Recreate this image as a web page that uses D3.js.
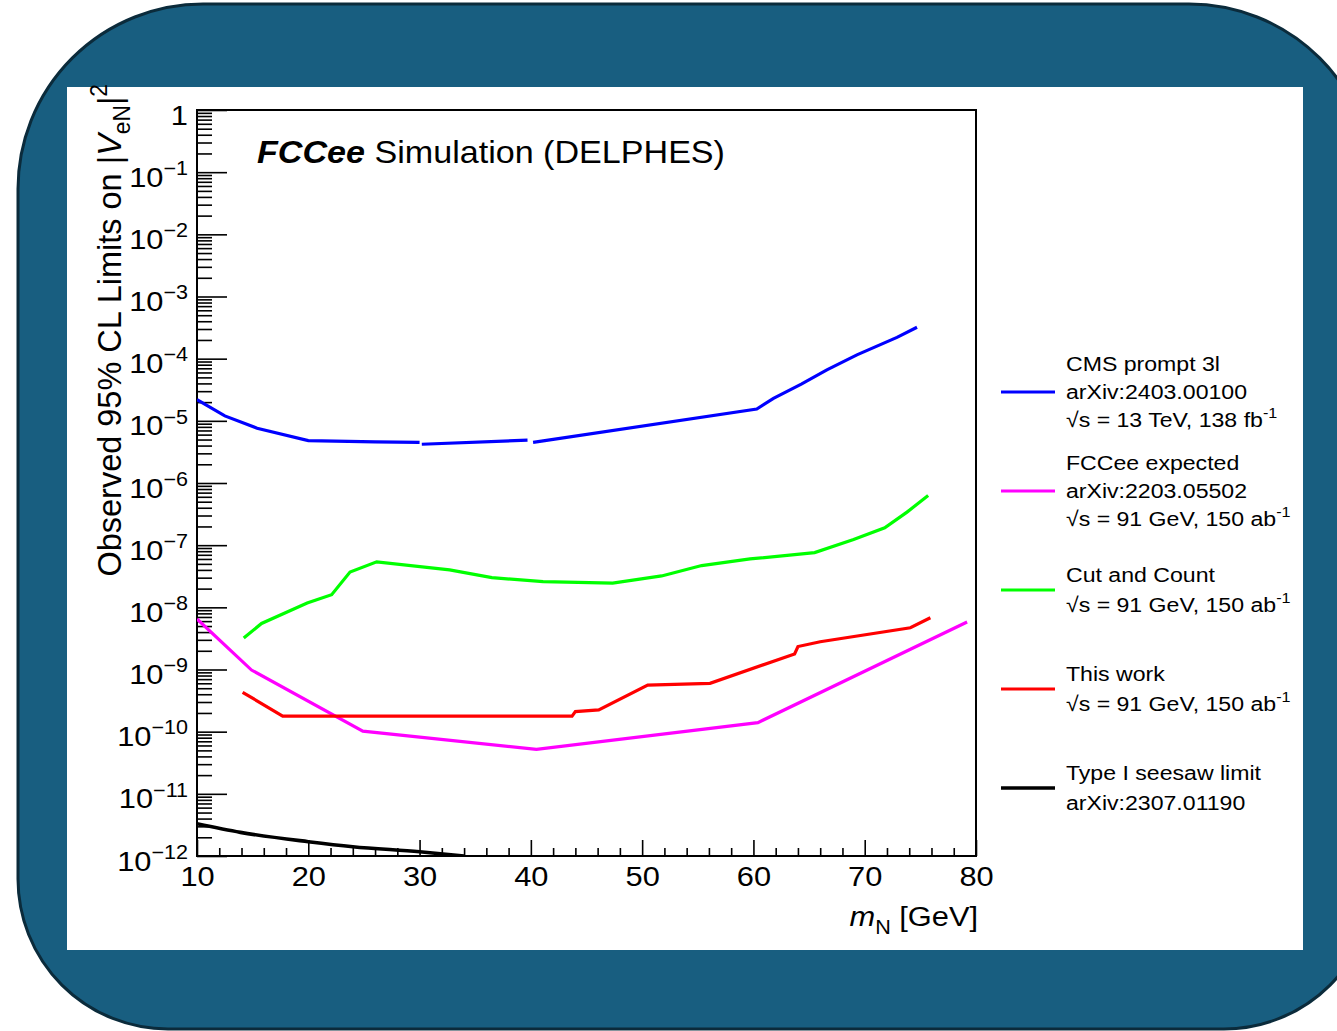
<!DOCTYPE html>
<html>
<head>
<meta charset="utf-8">
<script src="https://cdn.jsdelivr.net/npm/d3@7"></script>
<style>
  html, body { margin: 0; padding: 0; background: #fff; }
  svg { display: block; font-family: "Liberation Sans", Arial, Helvetica, sans-serif; }
</style>
</head>
<body>
<div id="chart"></div>
<script>
// ---- data ----
// CMS prompt 3l (null = gap in the line)
var cmsMass  = [10.0, 12.5, 15.4, 20.0, 26.0, 30.0, null, 30.2, 39.7, null, 40.2, 60.3, 61.8, 64.3, 66.6, 69.3, 72.9, 74.7];
var cmsLimit = [2.2e-5, 1.2e-5, 7.6e-6, 4.8e-6, 4.6e-6, 4.5e-6, null, 4.2e-6, 4.9e-6, null, 4.5e-6, 1.55e-5, 2.3e-5, 3.9e-5, 6.6e-5, 1.15e-4, 2.2e-4, 3.2e-4];
// FCCee expected
var fccMass  = [10.0, 14.9, 24.9, 40.5, 60.4, 79.2];
var fccLimit = [6.5e-9, 9.8e-10, 1.02e-10, 5.2e-11, 1.4e-10, 5.8e-9];
// Cut and Count
var ccMass  = [14.2, 15.8, 19.9, 22.1, 23.75, 26.15, 32.7, 36.5, 41.1, 47.35, 51.75, 55.35, 59.7, 65.5, 69.0, 71.8, 73.8, 75.7];
var ccLimit = [3.2e-9, 5.5e-9, 1.17e-8, 1.6e-8, 3.7e-8, 5.4e-8, 4.0e-8, 3.0e-8, 2.6e-8, 2.45e-8, 3.2e-8, 4.7e-8, 6.0e-8, 7.6e-8, 1.23e-7, 1.9e-7, 3.4e-7, 6.3e-7];
// This work
var thisMass  = [14.1, 17.7, 43.7, 44.0, 46.1, 50.5, 56.1, 63.7, 64.0, 66.0, 74.1, 75.9];
var thisLimit = [4.3e-10, 1.78e-10, 1.78e-10, 2.1e-10, 2.24e-10, 5.6e-10, 6.0e-10, 1.78e-9, 2.34e-9, 2.8e-9, 4.7e-9, 6.8e-9];
// Type I seesaw limit
var seesawMass  = [10, 13.9, 20, 24, 30, 34];
var seesawLimit = [3.3e-12, 2.4e-12, 1.7e-12, 1.41e-12, 1.17e-12, 1.0e-12];

var seriesColors = ['#0000ff', '#ff00ff', '#00ff00', '#ff0000', '#000000'];
var legendLabels = [
  ['CMS prompt 3l', 'arXiv:2403.00100', '√s = 13 TeV, 138 fb^{-1}'],
  ['FCCee expected', 'arXiv:2203.05502', '√s = 91 GeV, 150 ab^{-1}'],
  ['Cut and Count', '√s = 91 GeV, 150 ab^{-1}'],
  ['This work', '√s = 91 GeV, 150 ab^{-1}'],
  ['Type I seesaw limit', 'arXiv:2307.01190']
];
var xDomain = [10, 80];
var yDomain = [1e-12, 1];
var xTitle = '#it{m}_{N} [GeV]';
var yTitle = 'Observed 95% CL Limits on |#it{V}_{eN}|^{2}';
var plotTitle = '#bi{FCCee} Simulation (DELPHES)';

// ---- layout ----
var width = 1337, height = 1031;
var marge = {top: 110, bottom: 856, left: 197, right: 976};
var sx = 1.1; // the picture is a little wider than tall

var svg = d3.select('#chart').append('svg')
  .attr('width', width)
  .attr('height', height);

// rounded slide panel
var L = 18, T = 4, R = 1374, B = 1029, rt = 185, rb = 150;
svg.append('path')
  .attr('d', 'M' + (L + rt) + ',' + T + 'H' + (R - rt) +
    'A' + rt + ',' + rt + ' 0 0 1 ' + R + ',' + (T + rt) +
    'V' + (B - rb) + 'A' + rb + ',' + rb + ' 0 0 1 ' + (R - rb) + ',' + B +
    'H' + (L + rb) + 'A' + rb + ',' + rb + ' 0 0 1 ' + L + ',' + (B - rb) +
    'V' + (T + rt) + 'A' + rt + ',' + rt + ' 0 0 1 ' + (L + rt) + ',' + T + 'Z')
  .attr('fill', '#185e80')
  .attr('stroke', '#0b2b3b')
  .attr('stroke-width', 3);
svg.append('rect')
  .attr('x', 67).attr('y', 87)
  .attr('width', 1236).attr('height', 863)
  .attr('fill', '#fff');

// tiny ROOT-like text markup: ^{..} _{..} #it{..} #bi{..}
function rich(t, str, fs) {
  var parts = str.split(/(\^\{[^}]*\}|_\{[^}]*\}|#it\{[^}]*\}|#bi\{[^}]*\})/).filter(function(s){ return s.length; });
  var shift = 0;
  parts.forEach(function(p) {
    var ts = t.append('tspan');
    var dy = 0, size = fs, txt = p;
    if (p[0] === '^') { txt = p.slice(2, -1); size = fs * 0.7; dy = -fs * 0.42; }
    else if (p[0] === '_') { txt = p.slice(2, -1); size = fs * 0.7; dy = fs * 0.28; }
    else if (p.indexOf('#it') === 0) { txt = p.slice(4, -1); ts.attr('font-style', 'italic'); }
    else if (p.indexOf('#bi') === 0) { txt = p.slice(4, -1); ts.attr('font-style', 'italic').attr('font-weight', 'bold'); }
    ts.attr('dy', dy - shift).attr('font-size', size).text(txt);
    shift = dy;
  });
  return t;
}

var x = d3.scaleLinear().domain(xDomain).range([marge.left, marge.right]);
var y = d3.scaleLog().domain(yDomain).range([marge.bottom, marge.top]);

// ---- axes ----
var yAll = y.ticks(30);
var isDecade = function(d) { var l = Math.log10(d); return Math.abs(l - Math.round(l)) < 1e-6; };
var yMajor = yAll.filter(isDecade);
var yMinor = yAll.filter(function(d) { return !isDecade(d); });
var xMajor = x.ticks(7);
var xMinor = x.ticks(35).filter(function(d) { return d % 10 !== 0; });

function styleAxis(g) {
  g.select('.domain').remove();
  g.selectAll('.tick line').attr('stroke', '#000').attr('stroke-width', 1.6);
  g.selectAll('.tick text').remove();
}

svg.append('g')
  .attr('transform', 'translate(' + marge.left + ',0)')
  .call(d3.axisLeft(y).tickValues(yMinor).tickSizeInner(-15).tickSizeOuter(0))
  .call(styleAxis);

var yMaj = svg.append('g')
  .attr('transform', 'translate(' + marge.left + ',0)')
  .call(d3.axisLeft(y).tickValues(yMajor).tickSizeInner(-30).tickSizeOuter(0))
  .call(styleAxis);
yMaj.selectAll('.tick').each(function(d) {
  var e = Math.round(Math.log10(d));
  var t = d3.select(this).append('text')
    .attr('transform', 'translate(-9,14) scale(' + sx + ',1)')
    .attr('text-anchor', 'end')
    .attr('fill', '#000');
  rich(t, e === 0 ? '1' : '10^{−' + (-e) + '}', 28);
});

svg.append('g')
  .attr('transform', 'translate(0,' + marge.bottom + ')')
  .call(d3.axisBottom(x).tickValues(xMinor).tickSizeInner(-8).tickSizeOuter(0))
  .call(styleAxis);

var xMaj = svg.append('g')
  .attr('transform', 'translate(0,' + marge.bottom + ')')
  .call(d3.axisBottom(x).tickValues(xMajor).tickSizeInner(-16).tickSizeOuter(0))
  .call(styleAxis);
xMaj.selectAll('.tick').append('text')
  .attr('transform', 'translate(0,30) scale(' + sx + ',1)')
  .attr('text-anchor', 'middle')
  .attr('font-size', 28)
  .attr('fill', '#000')
  .text(function(d) { return d; });

// frame
svg.append('rect')
  .attr('x', marge.left).attr('y', marge.top)
  .attr('width', marge.right - marge.left)
  .attr('height', marge.bottom - marge.top)
  .attr('fill', 'none')
  .attr('stroke', '#000')
  .attr('stroke-width', 2);

// ---- curves ----
svg.append('clipPath').attr('id', 'plotclip')
  .append('rect')
  .attr('x', marge.left).attr('y', marge.top)
  .attr('width', marge.right - marge.left)
  .attr('height', marge.bottom - marge.top);

var seriesMass  = [cmsMass, fccMass, ccMass, thisMass, seesawMass];
var seriesLimit = [cmsLimit, fccLimit, ccLimit, thisLimit, seesawLimit];

var line = d3.line()
  .defined(function(d) { return d[1] != null; })
  .x(function(d) { return x(d[0]); })
  .y(function(d) { return y(d[1]); });

var curves = svg.append('g').attr('clip-path', 'url(#plotclip)');
seriesMass.forEach(function(ms, i) {
  var pts = ms.map(function(m, j) { return [m, seriesLimit[i][j]]; });
  curves.append('path')
    .datum(pts)
    .attr('d', i === 4 ? line.curve(d3.curveMonotoneX)(pts) : line.curve(d3.curveLinear)(pts))
    .attr('fill', 'none')
    .attr('stroke', seriesColors[i])
    .attr('stroke-width', i === 4 ? 3.6 : 3.2);
});

// ---- legend ----
var legendY = [392, 491, 590, 689, 788];
legendLabels.forEach(function(lines, i) {
  var g = svg.append('g');
  g.append('line')
    .attr('x1', 1001).attr('x2', 1055)
    .attr('y1', legendY[i]).attr('y2', legendY[i])
    .attr('stroke', seriesColors[i])
    .attr('stroke-width', i === 4 ? 3.6 : 3.2);
  var first = lines.length === 3 ? -21 : -8;
  var step = lines.length === 3 ? 28 : 30;
  lines.forEach(function(s, k) {
    var t = g.append('text')
      .attr('transform', 'translate(1066,' + (legendY[i] + first + k * step) + ') scale(' + sx + ',1)')
      .attr('fill', '#000');
    rich(t, s, 21);
  });
});

// ---- titles ----
rich(svg.append('text')
  .attr('transform', 'translate(257,163) scale(' + sx + ',1)')
  .attr('fill', '#000'), plotTitle, 31);

rich(svg.append('text')
  .attr('transform', 'translate(978,926) scale(' + sx + ',1)')
  .attr('text-anchor', 'end')
  .attr('fill', '#000'), xTitle, 28);

rich(svg.append('text')
  .attr('transform', 'translate(121,84) rotate(-90) scale(1,1.02)')
  .attr('text-anchor', 'end')
  .attr('fill', '#000'), yTitle, 32.5);
</script>
</body>
</html>
